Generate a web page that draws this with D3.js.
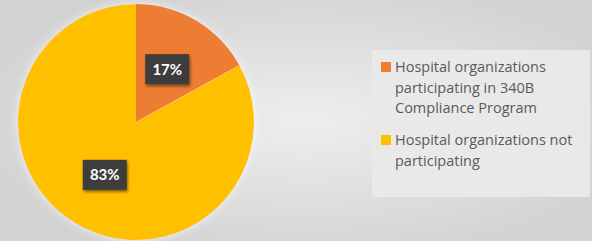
<!DOCTYPE html>
<html>
<head>
<meta charset="utf-8">
<script src="https://cdn.jsdelivr.net/npm/d3@7"></script>
<style>
  html, body { margin: 0; padding: 0; background: #dcdcdc; }
  svg { display: block; }
</style>
</head>
<body>
<div id="chart"></div>
<script>
// chart data
const categories = ['Hospital organizations participating in 340B Compliance Program', 'Hospital organizations not participating'];
const values = [17, 83];
const colors = ['#ED7D31', '#FFC000'];
const legendLines = [
  ['Hospital organizations', 'participating in 340B', 'Compliance Program'],
  ['Hospital organizations not', 'participating']
];

const width = 592, height = 241;
const cx = 136, cy = 122, radius = 118;

const svg = d3.select('#chart').append('svg').attr('width', width).attr('height', height);
const defs = svg.append('defs');

// soft gray backdrop, lighter toward the middle
const bg = defs.append('radialGradient').attr('id', 'bg')
  .attr('cx', '52%').attr('cy', '50%').attr('r', '60%');
bg.append('stop').attr('offset', '0%').attr('stop-color', '#eeeeee');
bg.append('stop').attr('offset', '100%').attr('stop-color', '#d2d2d2');
svg.append('rect').attr('width', width).attr('height', height).attr('fill', 'url(#bg)');

const glow = defs.append('filter').attr('id', 'glow').attr('x', '-20%').attr('y', '-20%').attr('width', '140%').attr('height', '140%');
glow.append('feGaussianBlur').attr('in', 'SourceAlpha').attr('stdDeviation', 4).attr('result', 'b');
glow.append('feFlood').attr('flood-color', '#ffffff').attr('flood-opacity', 0.7);
glow.append('feComposite').attr('in2', 'b').attr('operator', 'in').attr('result', 's');
const gm = glow.append('feMerge');
gm.append('feMergeNode').attr('in', 's');
gm.append('feMergeNode').attr('in', 'SourceGraphic');

const shadow = defs.append('filter').attr('id', 'shadow').attr('x', '-30%').attr('y', '-30%').attr('width', '160%').attr('height', '170%');
shadow.append('feGaussianBlur').attr('in', 'SourceAlpha').attr('stdDeviation', 1.5).attr('result', 'b');
shadow.append('feOffset').attr('in', 'b').attr('dx', 1).attr('dy', 2).attr('result', 'o');
shadow.append('feComponentTransfer').attr('in', 'o').attr('result', 'o2')
  .append('feFuncA').attr('type', 'linear').attr('slope', 0.5);
const sm = shadow.append('feMerge');
sm.append('feMergeNode').attr('in', 'o2');
sm.append('feMergeNode').attr('in', 'SourceGraphic');

const pie = d3.pie().sort(null).value(d => d);
const arcs = pie(values);
const arc = d3.arc().innerRadius(0).outerRadius(radius);
const labelArc = d3.arc().innerRadius(radius * 0.52).outerRadius(radius * 0.52);

const g = svg.append('g').attr('transform', `translate(${cx},${cy})`);
g.append('g').attr('filter', 'url(#glow)')
  .selectAll('path')
  .data(arcs)
  .enter()
  .append('path')
  .attr('d', arc)
  .attr('fill', (d, i) => colors[i]);

// data labels in dark boxes
const lab = g.selectAll('g.lab')
  .data(arcs)
  .enter()
  .append('g')
  .attr('class', 'lab')
  .attr('transform', d => `translate(${labelArc.centroid(d)})`);
lab.append('rect')
  .attr('x', -22).attr('y', -15).attr('width', 44).attr('height', 30)
  .attr('fill', '#3c3c3c')
  .attr('filter', 'url(#shadow)');
lab.append('text')
  .text(d => d.data + '%')
  .attr('text-anchor', 'middle')
  .attr('dy', '0.36em')
  .style('font-family', 'Lato, "DejaVu Sans", sans-serif')
  .style('font-weight', 'bold')
  .style('font-size', '15px')
  .style('fill', 'white');

// legend
const legend = svg.append('g');
legend.append('rect')
  .attr('x', 372).attr('y', 50).attr('width', 218).attr('height', 147)
  .attr('fill', '#e9e9e9');
const lineH = 20.5;
const itemY = [67, 140];
legendLines.forEach((lines, i) => {
  legend.append('rect')
    .attr('x', 381).attr('y', itemY[i] - 5).attr('width', 10).attr('height', 10)
    .attr('fill', colors[i]);
  const t = legend.append('text')
    .attr('x', 395).attr('y', itemY[i])
    .style('font-family', '"Open Sans", sans-serif')
    .style('font-size', '14.5px')
    .style('fill', '#5a5a5a');
  lines.forEach((ln, j) => {
    t.append('tspan').attr('x', 395).attr('y', itemY[i] + j * lineH).attr('dy', '0.35em').text(ln);
  });
});
</script>
</body>
</html>
